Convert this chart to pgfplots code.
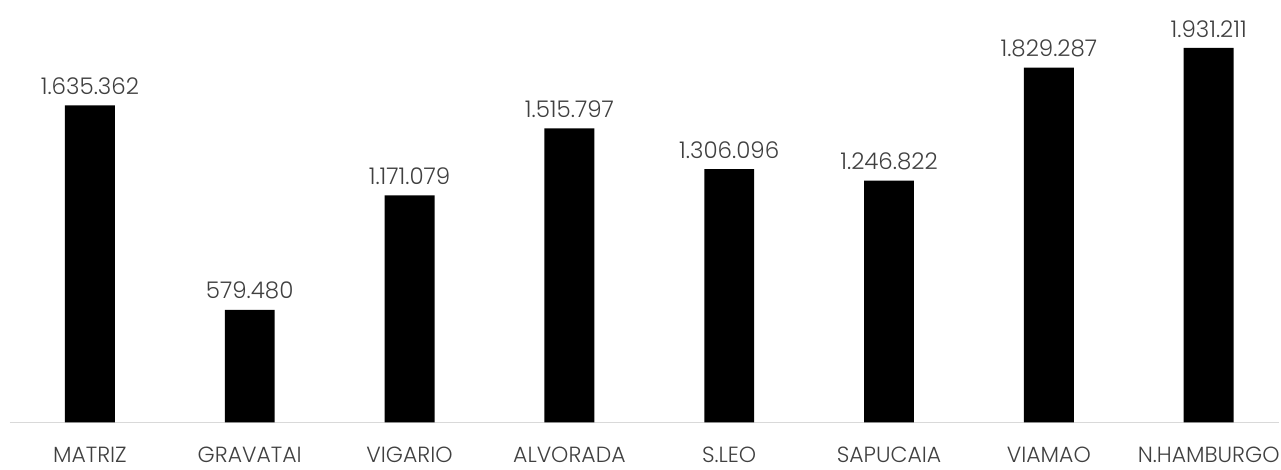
\documentclass[border=0pt]{standalone}
\usepackage{fontspec}
\setmainfont{Poppins}[UprightFont=* Light, Numbers=Monospaced]
\usepackage{pgfplots}
\pgfplotsset{compat=1.18}
\usepackage{pgfplotstable}
\definecolor{txt}{HTML}{404040}
\definecolor{axisgray}{HTML}{D9D9D9}
\pgfplotstableread{
x y lab
0 1635362 1.635.362
1 579480 579.480
2 1171079 1.171.079
3 1515797 1.515.797
4 1306096 1.306.096
5 1246822 1.246.822
6 1829287 1.829.287
7 1931211 1.931.211
}\sales
\begin{document}
\begin{tikzpicture}[x=1pt,y=1pt]
\begin{axis}[
  scale only axis,
  width=1271pt, height=375pt,
  xmin=-0.5, xmax=7.44,
  ymin=0, ymax=1931211,
  axis y line=none,
  axis x line*=bottom,
  x axis line style={axisgray, line width=1.2pt, -},
  xtick=data,
  xticklabels={MATRIZ,GRAVATAI,VIGARIO,ALVORADA,S.LEO,SAPUCAIA,VIAMAO,N.HAMBURGO},
  major tick length=0pt,
  xticklabel style={font=\fontsize{22}{26}\selectfont, text=txt, anchor=base, yshift=-40pt},
  clip=false,
  nodes near coords,
  point meta=explicit symbolic,
  every node near coord/.append style={font=\fontsize{23}{27}\selectfont, text=txt, yshift=7pt},
]
\addplot[ybar, bar width=50pt, fill=black, draw=none] table[x=x, y=y, meta=lab] {\sales};
\coordinate (bl) at (rel axis cs:0,0);
\coordinate (tr) at (rel axis cs:1,1);
\end{axis}
\pgfresetboundingbox
\path ([xshift=-10pt,yshift=-47pt]bl) rectangle ([xshift=2pt,yshift=48pt]tr);
\end{tikzpicture}
\end{document}
